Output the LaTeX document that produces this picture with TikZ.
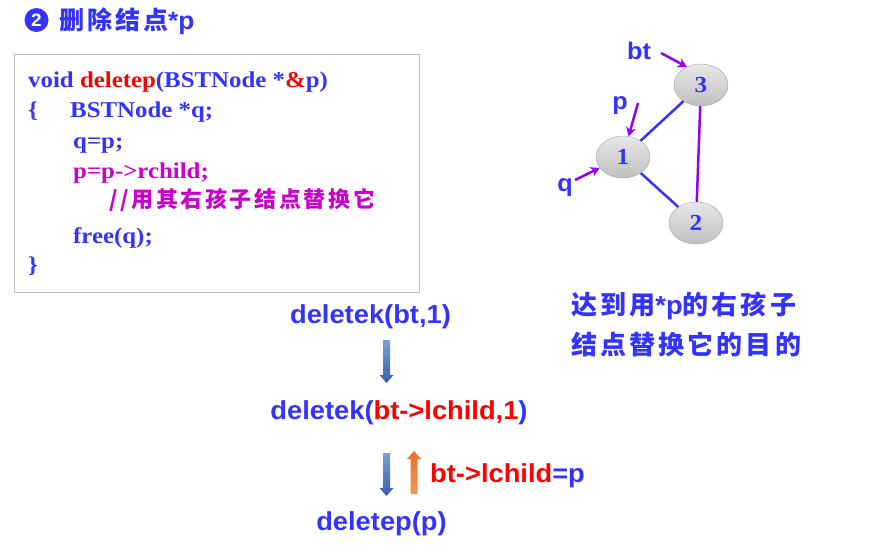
\documentclass[tikz,border=0pt]{standalone}
\usepackage{fontspec}
\setmainfont{Liberation Serif}[FakeStretch=1.1]
\newfontfamily\arial{Liberation Sans}[FakeStretch=1.05]
\newfontfamily\cjk{Noto Sans CJK SC}[LetterSpace=12]
\usetikzlibrary{arrows.meta,shapes.geometric}
\definecolor{tblue}{RGB}{51,51,255}
\definecolor{tred}{RGB}{255,0,0}
\definecolor{tmag}{RGB}{204,0,204}
\definecolor{tviol}{RGB}{150,0,240}
\definecolor{bxgray}{RGB}{191,191,191}
\definecolor{arbl1}{RGB}{120,160,220}
\definecolor{arbl2}{RGB}{50,95,170}
\definecolor{aror1}{RGB}{232,110,40}
\definecolor{aror2}{RGB}{245,150,80}
\newcommand\fs[1]{\fontsize{#1}{#1}\selectfont}
\newcommand\blockdown[3]{% x, ytop, ybottom
  \shade[top color=arbl1, bottom color=arbl2]
   (#1-3.5,#2) -- (#1+3.5,#2) -- (#1+3.5,#3-8) -- (#1+7,#3-8) -- (#1,#3)
   -- (#1-7,#3-8) -- (#1-3.5,#3-8) -- cycle;}
\newcommand\blockup[3]{% x, ytop, ybottom
  \shade[top color=aror1, bottom color=aror2]
   (#1-3.5,#3) -- (#1+3.5,#3) -- (#1+3.5,#2+8) -- (#1+7,#2+8) -- (#1,#2)
   -- (#1-7,#2+8) -- (#1-3.5,#2+8) -- cycle;}
\begin{document}
\begin{tikzpicture}[x=1pt,y=-1pt,
  code/.style={anchor=base west, inner sep=0, text=tblue, font=\fs{22.6}\bfseries},
  lbl/.style={anchor=base, inner sep=0, text=tblue, font=\arial\fs{26}\bfseries},
  ptrlbl/.style={inner sep=0, text=tblue, font=\arial\fs{24}\bfseries},
  tnode/.style={ellipse, draw=gray!70, top color=gray!18, bottom color=gray!50,
    minimum width=54pt, minimum height=42pt, inner sep=0, text=tblue,
    font=\fs{23}\bfseries},
  edgeb/.style={draw=tblue, line width=2.5pt},
  edgev/.style={draw=tviol, line width=2.5pt},
  ptr/.style={draw=tviol, line width=2.5pt, -{Stealth[length=9pt,width=10pt]}},
]
\useasboundingbox[fill=white] (0,0) rectangle (875,555);

% title
\node[circle, fill=tblue, minimum size=24pt, inner sep=0, text=white,
      font=\arial\fs{18}\bfseries] (num) at (36.5,20) {2};
\node[anchor=west, inner sep=0, text=tblue, font=\cjk\fs{25}\bfseries]
      (title) at (59,21) {删除结点{\arial\bfseries *p}};

% code box
\node[draw=bxgray, line width=1pt, fill=white, minimum width=405pt,
      minimum height=238pt, anchor=north west, inner sep=0] (box) at (14,54) {};
\node[code] (c1) at (28,87) {void \textcolor{tred}{deletep}(BSTNode *\textcolor{tred}{\&}p)};
\node[code] (c2a) at (28,117) {\{};
\node[code] (c2) at (70,117) {BSTNode *q;};
\node[code] (c3) at (73,148) {q=p;};
\node[code, text=tmag] (c4) at (73,178) {p=p->rchild;};
\node[anchor=base west, inner sep=0, text=tmag, font=\cjk\fs{22}\bfseries]
      (c5) at (109,207) {//用其右孩子结点替换它};
\node[code] (c6) at (73,243) {free(q);};
\node[code] (c7) at (28,272) {\}};

% tree
\node[tnode] (n3) at (701,85) {3};
\node[tnode] (n1) at (623,157) {1};
\node[tnode] (n2) at (696,223) {2};
\draw[edgeb] (n1) -- (n3);
\draw[edgeb] (n1) -- (n2);
\draw[edgev] (n3) -- (n2);

\node[ptrlbl] (bt) at (639,51) {bt};
\node[ptrlbl] (pl) at (620,106) {p};
\node[ptrlbl] (ql) at (565,188) {q};
\coordinate (btA) at (661,53);
\coordinate (pA) at (638,103);
\coordinate (qA) at (575,180);
\draw[ptr] (btA) -- (n3.128);
\draw[ptr] (pA) -- (n1.75);
\draw[ptr] (qA) -- (n1.205);

% right text
\node[anchor=west, inner sep=0, text=tblue, font=\cjk\fs{26}\bfseries]
      (r1) at (571,306) {达到用{\arial\bfseries *p}的右孩子};
\node[anchor=west, inner sep=0, text=tblue, font=\cjk\fs{26}\bfseries]
      (r2) at (571,345) {结点替换它的目的};

% call chain
\node[lbl] (k1) at (370.5,323) {deletek(bt,1)};
\node[lbl] (k2) at (399,419) {deletek(\textcolor{tred}{bt->lchild,1})};
\node[lbl, anchor=base west, text=tred] (k3) at (430,482) {bt->lchild\textcolor{tblue}{=p}};
\node[lbl] (k4) at (381.5,530) {deletep(p)};

\blockdown{386.5}{340}{383}
\blockdown{386.5}{453}{496}
\blockup{414}{451}{494}
\end{tikzpicture}
\end{document}
